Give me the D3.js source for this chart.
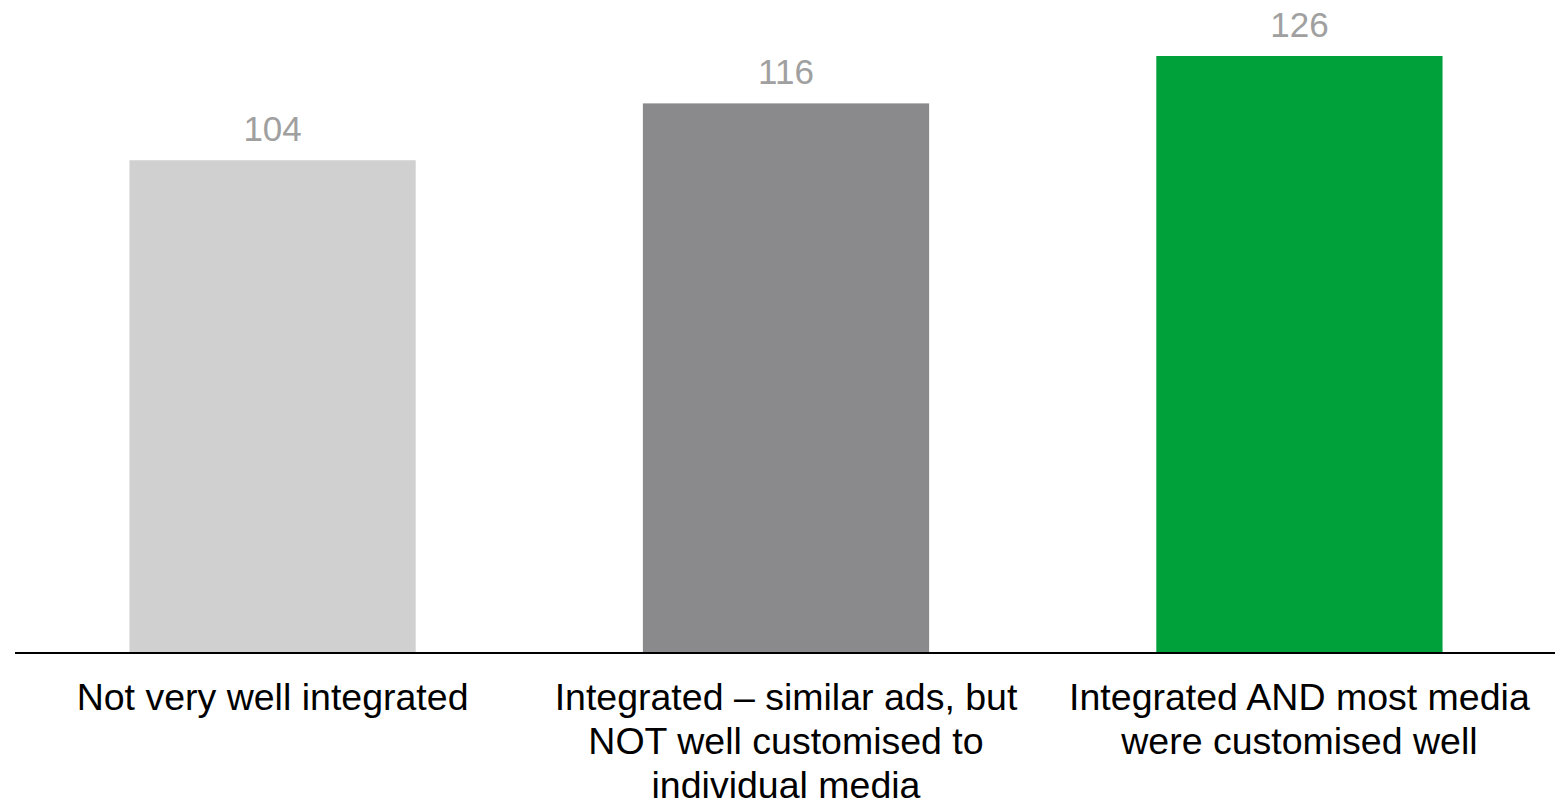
<!DOCTYPE html>
<html>
<head>
<meta charset="utf-8">
<script src="https://cdn.jsdelivr.net/npm/d3@7"></script>
<style>
  html, body { margin: 0; padding: 0; background: #ffffff; }
  svg { display: block; font-family: "Liberation Sans", Arial, sans-serif; }
</style>
</head>
<body>
<svg id="chart" width="1559" height="803"></svg>
<script>
// Chart data
const categories = [
  ["Not very well integrated"],
  ["Integrated \u2013 similar ads, but", "NOT well customised to", "individual media"],
  ["Integrated AND most media", "were customised well"]
];
const values = [104, 116, 126];
const barColors = ["#d0d0d0", "#8a8a8c", "#00a03a"];

const width = 1559, height = 803;
const baseline = 653;

const svg = d3.select("#chart");

const x = d3.scaleBand()
  .domain(d3.range(values.length))
  .range([16, 1556])
  .paddingInner(0.4425)
  .paddingOuter(0.221);

const y = d3.scaleLinear()
  .domain([0, 126])
  .range([baseline, 56]);

// Bars
svg.selectAll("rect.bar")
  .data(values)
  .join("rect")
  .attr("class", "bar")
  .attr("x", (d, i) => x(i))
  .attr("y", d => y(d))
  .attr("width", x.bandwidth())
  .attr("height", d => y(0) - y(d))
  .attr("fill", (d, i) => barColors[i]);

// Value labels above the bars
svg.selectAll("text.value")
  .data(values)
  .join("text")
  .attr("class", "value")
  .attr("x", (d, i) => x(i) + x.bandwidth() / 2)
  .attr("y", d => y(d) - 19)
  .attr("text-anchor", "middle")
  .attr("font-size", 35)
  .attr("fill", "#a0a0a0")
  .text(d => d);

// Baseline axis
const axis = d3.axisBottom(x).tickSize(0).tickFormat("");
const axisG = svg.append("g")
  .attr("transform", `translate(0,${baseline})`)
  .call(axis);
axisG.select(".domain")
  .attr("stroke", "#000")
  .attr("stroke-width", 2)
  .attr("d", "M15,0H1555");

// Category labels, one tspan per line
const catText = svg.selectAll("text.cat")
  .data(categories)
  .join("text")
  .attr("class", "cat")
  .attr("text-anchor", "middle")
  .attr("font-size", 37.5)
  .attr("fill", "#000");

catText.selectAll("tspan")
  .data((d, i) => d.map(line => ({ line, i })))
  .join("tspan")
  .attr("x", d => x(d.i) + x.bandwidth() / 2)
  .attr("y", (d, j) => 710 + j * 44)
  .text(d => d.line);
</script>
</body>
</html>
